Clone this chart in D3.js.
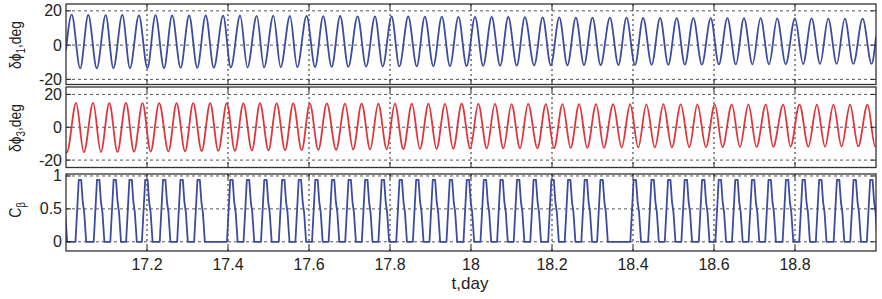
<!DOCTYPE html>
<html>
<head>
<meta charset="utf-8">
<script src="https://cdn.jsdelivr.net/npm/d3@7"></script>
<style>
    body { margin: 0; background: #fff; }
    text { font-family: "Liberation Sans", Arial, sans-serif; fill: #222; }
</style>
</head>
<body>
<div id="chart"></div>
<script>

// x axis ticks (days)
var xTicks = [17.2, 17.4, 17.6, 17.8, 18, 18.2, 18.4, 18.6, 18.8];
var xTickLabels = ["17.2", "17.4", "17.6", "17.8", "18", "18.2", "18.4", "18.6", "18.8"];

// delta phi 1 : times and values of the maxima / minima
var phi1PeakT = [17.014, 17.055, 17.098, 17.139, 17.180, 17.221, 17.262, 17.304, 17.345, 17.388, 17.430, 17.471,
    17.512, 17.553, 17.594, 17.635, 17.677, 17.720, 17.763, 17.804, 17.845, 17.886, 17.928, 17.969,
    18.010, 18.051, 18.092, 18.133, 18.177, 18.218, 18.259, 18.300, 18.343, 18.384, 18.425, 18.467,
    18.508, 18.549, 18.592, 18.633, 18.674, 18.715, 18.756, 18.800, 18.841, 18.882, 18.923, 18.967];
var phi1PeakV = [17.8, 17.6, 17.5, 17.6, 17.4, 17.5, 17.4, 17.3, 17.4, 17.2, 17.3, 17.1,
    17.2, 17.0, 17.1, 16.9, 17.0, 16.8, 16.8, 16.7, 16.7, 16.6, 16.6, 16.5,
    16.5, 16.4, 16.4, 16.3, 16.2, 16.2, 16.1, 16.1, 16.0, 16.0, 15.9, 15.9,
    15.8, 15.8, 15.8, 15.7, 15.7, 15.7, 15.6, 15.6, 15.6, 15.5, 15.5, 15.5];
var phi1TroughT = [17.035, 17.076, 17.117, 17.158, 17.201, 17.242, 17.283, 17.324, 17.365, 17.407, 17.448, 17.489,
    17.530, 17.571, 17.615, 17.656, 17.697, 17.741, 17.782, 17.823, 17.866, 17.907, 17.948, 17.989,
    18.030, 18.072, 18.113, 18.156, 18.197, 18.238, 18.279, 18.320, 18.364, 18.405, 18.446, 18.487,
    18.528, 18.570, 18.612, 18.654, 18.695, 18.736, 18.777, 18.820, 18.862, 18.903, 18.944, 18.989];
var phi1TroughV = [-13.6, -13.6, -13.5, -13.5, -13.4, -13.4, -13.3, -13.3, -13.2, -13.1, -13.1, -13.0,
    -12.9, -12.9, -12.8, -12.7, -12.7, -12.6, -12.5, -12.5, -12.4, -12.3, -12.3, -12.2,
    -12.1, -12.1, -12.0, -11.9, -11.9, -11.8, -11.7, -11.7, -11.6, -11.6, -11.5, -11.5,
    -11.4, -11.4, -11.3, -11.3, -11.2, -11.2, -11.1, -11.1, -11.0, -11.0, -11.0, -10.9];
var phi1Ends = [[17.0, -3], [19.0, 5]];

// delta phi 3
var phi3PeakT = [17.025, 17.067, 17.107, 17.148, 17.189, 17.230, 17.273, 17.314, 17.356, 17.397, 17.438, 17.479,
    17.520, 17.561, 17.602, 17.644, 17.689, 17.730, 17.771, 17.812, 17.854, 17.895, 17.936, 17.977,
    18.018, 18.059, 18.100, 18.141, 18.185, 18.226, 18.267, 18.309, 18.351, 18.393, 18.433, 18.475,
    18.518, 18.559, 18.602, 18.644, 18.685, 18.728, 18.771, 18.811, 18.854, 18.895, 18.936, 18.979];
var phi3PeakV = [14.8, 14.8, 14.7, 14.8, 14.7, 14.7, 14.6, 14.7, 14.6, 14.6, 14.5, 14.6,
    14.5, 14.5, 14.4, 14.5, 14.4, 14.4, 14.3, 14.4, 14.3, 14.3, 14.2, 14.3,
    14.2, 14.2, 14.1, 14.2, 14.1, 14.1, 14.0, 14.1, 14.0, 14.0, 13.9, 14.0,
    13.9, 13.9, 13.9, 13.8, 13.9, 13.8, 13.8, 13.8, 13.7, 13.8, 13.7, 13.7];
var phi3TroughT = [17.002, 17.044, 17.086, 17.127, 17.168, 17.209, 17.253, 17.294, 17.335, 17.376, 17.417, 17.459,
    17.500, 17.541, 17.582, 17.623, 17.667, 17.709, 17.751, 17.792, 17.833, 17.874, 17.915, 17.956,
    17.998, 18.039, 18.080, 18.121, 18.164, 18.205, 18.246, 18.287, 18.328, 18.372, 18.413, 18.454,
    18.496, 18.539, 18.580, 18.621, 18.664, 18.705, 18.746, 18.789, 18.833, 18.874, 18.915, 18.956, 18.998];
var phi3TroughV = [-15.3, -15.2, -15.1, -15.0, -14.9, -14.8, -14.7, -14.6, -14.5, -14.4, -14.3, -14.2,
    -14.1, -14.0, -13.9, -13.8, -13.7, -13.6, -13.5, -13.4, -13.3, -13.2, -13.2, -13.1,
    -13.0, -12.9, -12.9, -12.8, -12.7, -12.7, -12.6, -12.5, -12.5, -12.4, -12.3, -12.3,
    -12.2, -12.2, -12.1, -12.1, -12.0, -12.0, -11.9, -11.9, -11.8, -11.8, -11.7, -11.7, -11.6];
var phi3Ends = [[17.0, -15.2], [19.0, -11.6]];

// C_beta : pulse peak times (two pulses missing near 17.365 and 18.364)
var cbPulseT = [16.988, 17.035, 17.080, 17.121, 17.160, 17.199, 17.243, 17.286, 17.328,
    17.409, 17.450, 17.493, 17.537, 17.578, 17.619, 17.660, 17.701, 17.742, 17.783, 17.827,
    17.868, 17.909, 17.951, 17.993, 18.035, 18.076, 18.117, 18.158, 18.202, 18.243, 18.284,
    18.323, 18.405, 18.449, 18.490, 18.531, 18.574, 18.615, 18.656, 18.697, 18.738, 18.781,
    18.822, 18.863, 18.907, 18.948, 18.989];
var cbPulsePeak = 0.94;

// y ticks per panel
var phi1Ticks = [-20, 0, 20];
var phi3Ticks = [-20, 0, 20];
var cbTicks = [0, 0.5, 1];
var cbTickLabels = ["0", "0.5", "1"];

function init() {

    var width = 882;
    var height = 299;
    var left = 66, right = 876;

    var svg = d3.select("#chart")
        .append("svg")
        .attr("width", width)
        .attr("height", height);

    var x = d3.scaleLinear().domain([17, 19]).range([left, right]);

    // merge maxima and minima in time order
    function extrema(pT, pV, tT, tV, ends) {
        var pts = [ends[0]];
        pT.forEach(function (t, i) { pts.push([t, pV[i]]); });
        tT.forEach(function (t, i) { pts.push([t, tV[i]]); });
        pts.push(ends[1]);
        pts.sort(function (a, b) { return a[0] - b[0]; });
        return pts;
    }

    // each C_beta pulse: steep rise, short top, slower fall with a shoulder
    function pulses(peaks) {
        var shape = [[-0.0116, 0], [-0.0035, 1], [0.0025, 1], [0.0064, 0.64], [0.0099, 0.48], [0.0148, 0]];
        var pts = [[16.9, 0]];
        peaks.forEach(function (c) {
            shape.forEach(function (s) { pts.push([c + s[0], s[1] * cbPulsePeak]); });
        });
        pts.push([19.1, 0]);
        return pts;
    }

    var panels = [
        { top: 4, bottom: 84.5, domain: [-23, 24], ticks: phi1Ticks, labels: phi1Ticks.map(String),
          data: extrema(phi1PeakT, phi1PeakV, phi1TroughT, phi1TroughV, phi1Ends),
          color: "#3d4b9f", curve: d3.curveMonotoneX },
        { top: 87, bottom: 167.5, domain: [-24.5, 24.5], ticks: phi3Ticks, labels: phi3Ticks.map(String),
          data: extrema(phi3PeakT, phi3PeakV, phi3TroughT, phi3TroughV, phi3Ends),
          color: "#e2343b", curve: d3.curveMonotoneX },
        { top: 174, bottom: 251, domain: [-0.14, 1.03], ticks: cbTicks, labels: cbTickLabels,
          data: pulses(cbPulseT),
          color: "#3d4b9f", curve: d3.curveLinear }
    ];

    var defs = svg.append("defs");

    panels.forEach(function (p, k) {
        var y = d3.scaleLinear().domain(p.domain).range([p.bottom, p.top]);
        var g = svg.append("g");

        defs.append("clipPath").attr("id", "clip" + k)
            .append("rect")
            .attr("x", left).attr("y", p.top)
            .attr("width", right - left).attr("height", p.bottom - p.top);

        // horizontal grid
        g.selectAll(".hgrid")
            .data(p.ticks)
            .enter().append("line")
            .attr("x1", left).attr("x2", right)
            .attr("y1", function (d) { return y(d); })
            .attr("y2", function (d) { return y(d); })
            .attr("stroke", "#555")
            .attr("stroke-width", 1)
            .attr("stroke-dasharray", "3,3");

        // vertical grid
        g.selectAll(".vgrid")
            .data(xTicks)
            .enter().append("line")
            .attr("x1", function (d) { return x(d); })
            .attr("x2", function (d) { return x(d); })
            .attr("y1", p.top).attr("y2", p.bottom)
            .attr("stroke", "#222")
            .attr("stroke-width", 1)
            .attr("stroke-dasharray", "2,3");

        // the signal
        var line = d3.line()
            .x(function (d) { return x(d[0]); })
            .y(function (d) { return y(d[1]); })
            .curve(p.curve);

        g.append("path")
            .datum(p.data)
            .attr("clip-path", "url(#clip" + k + ")")
            .attr("fill", "none")
            .attr("stroke", p.color)
            .attr("stroke-width", 1.8)
            .attr("stroke-linejoin", "round")
            .attr("d", line);

        // inner tick marks, left/right and top/bottom
        var tl = 5;
        p.ticks.forEach(function (d) {
            g.append("line").attr("x1", left).attr("x2", left + tl)
                .attr("y1", y(d)).attr("y2", y(d)).attr("stroke", "#222");
            g.append("line").attr("x1", right).attr("x2", right - tl)
                .attr("y1", y(d)).attr("y2", y(d)).attr("stroke", "#222");
        });
        xTicks.forEach(function (d) {
            g.append("line").attr("x1", x(d)).attr("x2", x(d))
                .attr("y1", p.top).attr("y2", p.top + tl).attr("stroke", "#222");
            g.append("line").attr("x1", x(d)).attr("x2", x(d))
                .attr("y1", p.bottom).attr("y2", p.bottom - tl).attr("stroke", "#222");
        });

        // frame
        g.append("rect")
            .attr("x", left).attr("y", p.top)
            .attr("width", right - left).attr("height", p.bottom - p.top)
            .attr("fill", "none")
            .attr("stroke", "#333")
            .attr("stroke-width", 1.3);

        // y tick labels
        g.selectAll(".ylab")
            .data(p.ticks)
            .enter().append("text")
            .attr("x", left - 4)
            .attr("y", function (d) { return y(d) + 5.5; })
            .attr("text-anchor", "end")
            .style("font-size", "16px")
            .text(function (d, i) { return p.labels[i]; });
    });

    // x tick labels
    svg.selectAll(".xlab")
        .data(xTicks)
        .enter().append("text")
        .attr("x", function (d) { return x(d); })
        .attr("y", 270)
        .attr("text-anchor", "middle")
        .style("font-size", "16px")
        .text(function (d, i) { return xTickLabels[i]; });

    svg.append("text")
        .attr("x", 470)
        .attr("y", 289)
        .attr("text-anchor", "middle")
        .style("font-size", "17px")
        .text("t,day");

    // y axis titles, rotated (squeezed along the text as in the figure)
    function yTitle(cy, main, sub, rest) {
        var t = svg.append("text")
            .attr("transform", "translate(21," + cy + ") rotate(-90) scale(0.82,1)")
            .attr("text-anchor", "middle")
            .style("font-size", "17px");
        t.append("tspan").text(main);
        t.append("tspan").attr("dy", 4).style("font-size", "12px").text(sub);
        if (rest) t.append("tspan").attr("dy", -4).text(rest);
    }
    yTitle(45, "δϕ", "1", ",deg");
    yTitle(128, "δϕ", "3", ",deg");
    yTitle(210, "C", "β", "");
}

window.onload = init;
</script>
</body>
</html>
